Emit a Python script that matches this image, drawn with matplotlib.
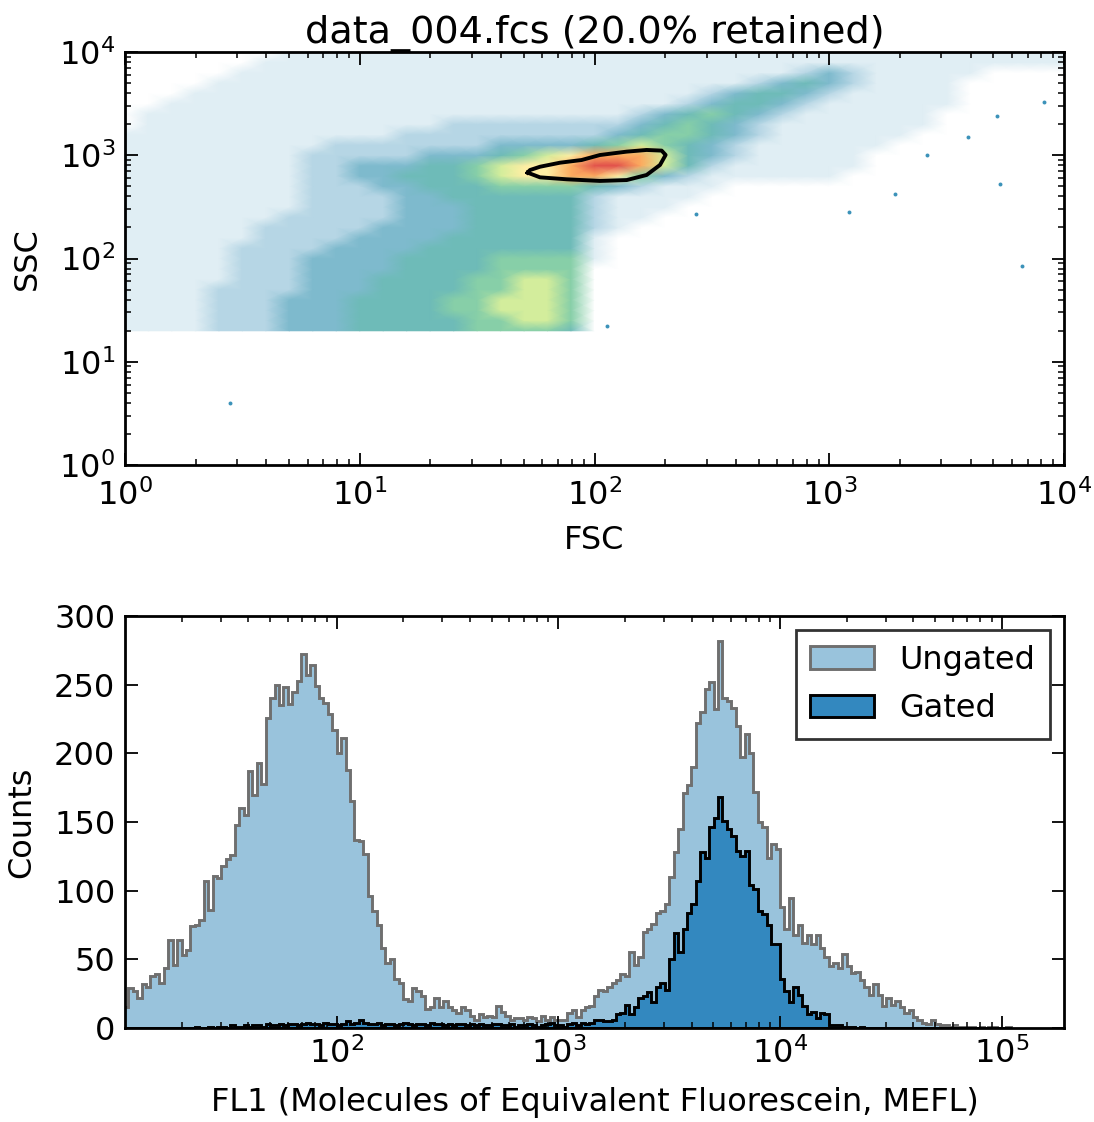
import numpy as np
import matplotlib
matplotlib.use("Agg")
import matplotlib.pyplot as plt
from matplotlib.colors import LinearSegmentedColormap

# ---------------------------------------------------------------- data
TITLE = "data_004.fcs (20.0% retained)"

# Density of events in the FSC/SSC plane.
# Nodes every 0.1 decade: columns log10(FSC)=0.0..4.0, rows log10(SSC)=4.0 (top) .. 1.3 (bottom)
# level 0 = empty, 1 = very sparse ... 9 = densest
DENSITY_FSC_LOG = [0.0, 4.0]
DENSITY_SSC_LOG = [1.3, 4.0]
DENSITY_ROWS = [
    "0000000111 1111111111 1111111111 1111111111 1",
    "0000001111 1111111111 1111111111 1111111111 1",
    "0000011111 1111111111 1111111112 3211111000 0",
    "0000111111 1111111111 1111111234 3211110000 0",
    "0001111111 1111111111 1111123443 2111110000 0",
    "0011111111 1111111111 1111234432 1111110000 0",
    "0111111111 1111111111 1123454321 1111100000 0",
    "0111111111 1111222222 2234543211 1111100000 0",
    "1111111111 1122222222 2345543211 1111000000 0",
    "1111111112 2222223333 4565432111 1110000000 0",
    "1111111122 2223334567 8886432111 1100000000 0",
    "1111111122 3334456778 9986421111 1100000000 0",
    "1111111122 3344456778 8753211111 1000000000 0",
    "1111111122 2334445555 4321110000 0000000000 0",
    "1111111122 2233444444 2111100000 0000000000 0",
    "1111111122 2233344444 2111000000 0000000000 0",
    "1111111222 2233344444 2110000000 0000000000 0",
    "1111112222 2333344444 2100000000 0000000000 0",
    "1111112222 3333444444 1000000000 0000000000 0",
    "1111122223 3334444444 1000000000 0000000000 0",
    "1111122233 3344445555 1000000000 0000000000 0",
    "1111122233 3344445555 0000000000 0000000000 0",
    "1111122233 3444455665 0000000000 0000000000 0",
    "1111222233 3444455665 0000000000 0000000000 0",
    "1111222333 4444556665 0000000000 0000000000 0",
    "1111222333 4444556665 0000000000 0000000000 0",
    "1111222333 4444455665 0000000000 0000000000 0",
    "1111222333 4444455554 0000000000 0000000000 0",
]

# isolated outlier events
OUTLIER_FSC = [2.8, 5330, 6600, 1213, 113, 270, 3900, 1900, 5200, 8200, 2600]
OUTLIER_SSC = [4.0, 525, 85, 282, 22, 270, 1500, 420, 2400, 3300, 1000]

# gate contour (FSC, SSC)
GATE_FSC = [51.9, 58.6, 76.1, 105.5, 137.1, 166.7, 190.1, 200.9, 193.2,
            166.7, 137.1, 105.4, 88.1, 71.3, 58.6, 53.1, 51.9]
GATE_SSC = [678, 611, 585, 564, 575, 644, 805, 1007, 1109,
            1125, 1084, 1005, 899, 847, 774, 719, 678]

# FL1 histogram: bins 0.02 decade wide starting at 10^1.04
FL1_BIN_LOG_START = 1.04
FL1_BIN_LOG_WIDTH = 0.02
UNGATED = [
    15, 29, 27, 22, 32, 30, 38, 39, 33, 44,
    64, 46, 64, 53, 57, 74, 75, 79, 107, 86,
    111, 109, 118, 123, 126, 148, 160, 155, 187, 170,
    193, 178, 226, 240, 250, 235, 248, 236, 245, 253,
    272, 257, 264, 249, 240, 237, 229, 217, 200, 211,
    188, 165, 137, 136, 127, 96, 85, 75, 58, 47,
    50, 36, 33, 21, 20, 29, 27, 23, 14, 15,
    22, 15, 20, 15, 13, 11, 15, 13, 9, 6,
    10, 8, 9, 8, 16, 12, 9, 6, 7, 7,
    6, 8, 7, 5, 9, 6, 8, 6, 6, 6,
    11, 13, 8, 13, 15, 16, 23, 28, 27, 30,
    33, 35, 39, 38, 55, 46, 52, 70, 72, 76,
    84, 85, 90, 110, 128, 145, 171, 177, 190, 222,
    230, 247, 252, 232, 282, 240, 238, 233, 220, 197,
    214, 200, 172, 150, 146, 124, 134, 130, 88, 72,
    95, 68, 75, 62, 68, 61, 68, 58, 52, 45,
    47, 44, 54, 45, 40, 41, 35, 30, 24, 32,
    24, 16, 22, 17, 20, 15, 11, 13, 8, 6,
    4, 3, 6, 3, 2, 2, 1, 2, 1, 1,
    1, 1, 0, 1, 0, 1, 1, 0, 0, 1,
]
GATED = [
    0, 0, 0, 0, 0, 0, 0, 0, 0, 0,
    0, 0, 0, 0, 0, 0, 1, 0, 0, 1,
    0, 1, 1, 0, 2, 1, 1, 2, 1, 2,
    2, 1, 3, 2, 2, 3, 2, 3, 3, 2,
    3, 4, 3, 3, 2, 4, 3, 3, 2, 3,
    5, 3, 4, 6, 4, 3, 3, 4, 2, 3,
    3, 2, 3, 4, 3, 2, 3, 3, 2, 4,
    3, 3, 2, 3, 2, 3, 3, 2, 3, 2,
    3, 2, 2, 3, 3, 2, 2, 3, 1, 2,
    2, 3, 2, 1, 2, 3, 4, 2, 2, 1,
    3, 4, 2, 4, 3, 4, 6, 6, 5, 5,
    6, 10, 11, 17, 10, 15, 22, 23, 26, 19,
    30, 33, 28, 50, 69, 55, 72, 84, 90, 107,
    128, 124, 146, 153, 168, 151, 145, 140, 129, 125,
    129, 104, 101, 85, 83, 75, 61, 61, 36, 27,
    19, 30, 24, 16, 10, 12, 7, 11, 10, 2,
    2, 2, 1, 1, 1, 0, 1, 0, 0, 0,
    0, 0, 0, 0, 0, 0, 0, 0, 0, 0,
    0, 0, 0, 0, 0, 0, 0, 0, 0, 0,
    0, 0, 0, 0, 0, 0, 0, 0, 0, 0,
]
HIST_LABELS = ["Ungated", "Gated"]

# ---------------------------------------------------------------- style
FS = 23
plt.rcParams.update({
    "font.family": ["DejaVu Sans"],
    "font.size": FS,
    "xtick.direction": "in", "ytick.direction": "in",
    "xtick.top": True, "ytick.right": True,
    "xtick.major.size": 9, "ytick.major.size": 9,
    "xtick.minor.size": 4, "ytick.minor.size": 4,
    "xtick.major.width": 1.3, "ytick.major.width": 1.3,
    "xtick.minor.width": 1.1, "ytick.minor.width": 1.1,
    "xtick.major.pad": 7, "ytick.major.pad": 7,
    "axes.linewidth": 2.0,
})

fig = plt.figure(figsize=(10.94, 11.22), dpi=100)
W, H = 1094, 1122


def rect(l, t, r, b):
    return [l / W, 1 - b / H, (r - l) / W, (b - t) / H]


# ---------------------------------------------------------------- top: density
ax1 = fig.add_axes(rect(125, 52, 1064, 465))
grid = np.array([[int(c) for c in row.replace(" ", "")] for row in DENSITY_ROWS[::-1]], float)
ny, nx = grid.shape
fx = 10 ** np.linspace(DENSITY_FSC_LOG[0], DENSITY_FSC_LOG[1], nx)
fy = 10 ** np.linspace(DENSITY_SSC_LOG[0], DENSITY_SSC_LOG[1], ny)
X, Y = np.meshgrid(fx, fy)

spec = plt.get_cmap("Spectral_r")
white = np.ones(3)


def cover(pos, frac):
    return tuple((1 - frac) * white + frac * np.array(spec(pos)[:3]))


cols = [
    (1.0, 1.0, 1.0),
    cover(0.12, 0.16),
    cover(0.12, 0.38),
    cover(0.13, 0.68),
    cover(0.17, 0.86),
    cover(0.24, 0.96),
    spec(0.37)[:3],
    spec(0.55)[:3],
    spec(0.70)[:3],
    spec(0.86)[:3],
]
cmap = LinearSegmentedColormap.from_list("dens", cols, N=256)
ax1.pcolormesh(X, Y, grid, cmap=cmap, vmin=0, vmax=9, shading="gouraud",
               rasterized=True)
ax1.scatter(OUTLIER_FSC, OUTLIER_SSC, s=8, color=spec(0.12), lw=0)
ax1.plot(GATE_FSC, GATE_SSC, color="black", lw=2.8)
ax1.set_xscale("log")
ax1.set_yscale("log")
ax1.set_xlim(1, 1e4)
ax1.set_ylim(1, 1e4)
ax1.tick_params(axis="x", which="major", pad=10)
ax1.set_xlabel("FSC", labelpad=10)
ax1.set_ylabel("SSC", labelpad=12)
ax1.set_title(TITLE, fontsize=27.5, pad=6)

# ---------------------------------------------------------------- bottom: histogram
ax2 = fig.add_axes(rect(125, 616, 1064, 1028))
edges = 10 ** (FL1_BIN_LOG_START + FL1_BIN_LOG_WIDTH * np.arange(len(UNGATED) + 1))
centers = np.sqrt(edges[:-1] * edges[1:])
ax2.hist(centers, bins=edges, weights=UNGATED, histtype="stepfilled",
         facecolor="#99c3dc", edgecolor="#6f6f6f", linewidth=2.1, label=HIST_LABELS[0])
ax2.hist(centers, bins=edges, weights=GATED, histtype="stepfilled",
         facecolor="#3388bf", edgecolor="black", linewidth=2.1, label=HIST_LABELS[1])
ax2.set_xscale("log")
ax2.set_xlim(10 ** 1.045, 10 ** 5.281)
ax2.set_ylim(0, 300)
ax2.set_yticks([0, 50, 100, 150, 200, 250, 300])
ax2.set_xlabel("FL1 (Molecules of Equivalent Fluorescein, MEFL)", labelpad=12)
ax2.set_ylabel("Counts", labelpad=12)
leg = ax2.legend(loc="upper right", fancybox=False, fontsize=FS, borderaxespad=0.45,
                 handlelength=2.0, labelspacing=0.55, borderpad=0.45)
leg.get_frame().set_edgecolor("black")
leg.get_frame().set_linewidth(2.0)

fig.savefig("out.png", dpi=100, facecolor="white")
